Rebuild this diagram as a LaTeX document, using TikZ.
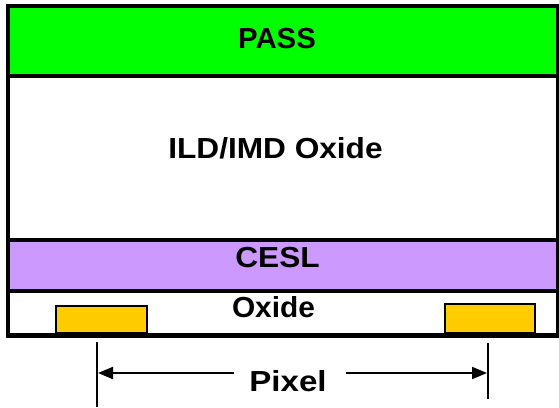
\documentclass[tikz,border=0pt]{standalone}
\usepackage{fontspec}
\setmainfont{Liberation Sans}
\usetikzlibrary{arrows.meta}
\definecolor{passgreen}{HTML}{00FF00}
\definecolor{ceslpurple}{HTML}{CC99FF}
\definecolor{padyellow}{HTML}{FFCC00}
\tikzset{
  layer/.style={draw=black, line width=4pt, inner sep=0pt},
  lbl/.style={font=\fontsize{29}{32}\selectfont\bfseries, inner sep=0pt},
  pad/.style={draw=black, fill=padyellow, line width=1.5pt},
  dimline/.style={line width=2pt},
  dimarrow/.style={line width=2pt, -{Triangle[length=15pt,width=12pt]}}
}
\begin{document}
\begin{tikzpicture}[x=1pt,y=-1pt]
\useasboundingbox (0,0) rectangle (559,407);
% layers
\filldraw[fill=passgreen, layer] (8,6) rectangle (558,76);
\filldraw[fill=white, layer] (8,76) rectangle (558,240);
\filldraw[fill=ceslpurple, layer] (8,240) rectangle (558,291);
\filldraw[fill=white, layer] (8,291) rectangle (558,335);
\draw[line width=5pt] (6,335.5) -- (559,335.5);
% pads
\filldraw[pad] (56,306) rectangle (147,333);
\filldraw[pad] (445,304) rectangle (535,333);
% labels
\node[lbl] (pass) at (277,38.5) {\scalebox{1.01}[1]{PASS}};
\node[lbl] (ild) at (275.5,148) {\scalebox{1.09}[1]{ILD/IMD Oxide}};
\node[lbl] (cesl) at (277.5,257.5) {\scalebox{1.09}[1]{CESL}};
\node[lbl] (oxide) at (273.5,307) {\scalebox{1.03}[1]{Oxide}};
% dimension
\coordinate (lt) at (97,342);
\coordinate (lb) at (97,407);
\coordinate (rt) at (488,343);
\coordinate (rb) at (488,399);
\draw[dimline] (lt) -- (lb);
\draw[dimline] (rt) -- (rb);
\node[lbl] (pixel) at (288,381) {\scalebox{1.14}[1]{Pixel}};
\coordinate (la) at (98,373);
\coordinate (ra) at (487,373);
\draw[dimarrow] ([xshift=-15pt]pixel.west |- la) -- (la);
\draw[dimarrow] ([xshift=19pt]pixel.east |- ra) -- (ra);
\end{tikzpicture}
\end{document}
